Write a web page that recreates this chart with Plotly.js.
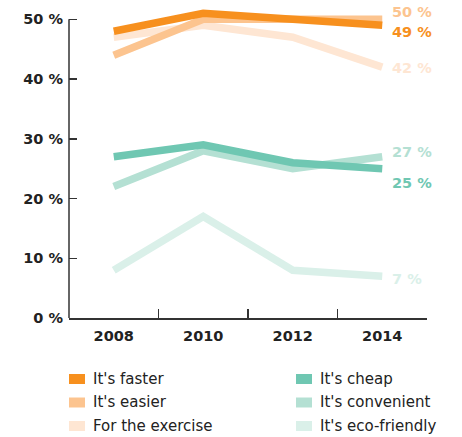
<!DOCTYPE html>
<html>
<head>
<meta charset="utf-8">
<script src="https://cdn.plot.ly/plotly-3.0.1.min.js"></script>
<style>html,body{margin:0;padding:0;background:#fff;}#chart{width:462px;height:437px;}</style>
</head>
<body>
<div id="chart"></div>
<script>
var years = ["2008", "2010", "2012", "2014"];
var seriesNames = ["It's faster", "It's easier", "For the exercise", "It's cheap", "It's convenient", "It's eco-friendly"];
var faster = [48, 51, 50, 49];
var easier = [44, 50, 50, 50];
var exercise = [47, 49, 47, 42];
var cheap = [27, 29, 26, 25];
var convenient = [22, 28, 25, 27];
var ecoFriendly = [8, 17, 8, 7];
var yTickVals = [0, 10, 20, 30, 40, 50];
var yTickText = ["0 %", "10 %", "20 %", "30 %", "40 %", "50 %"];

var seriesValues = [faster, easier, exercise, cheap, convenient, ecoFriendly];
var colors = ["#F7901E", "#FCC48F", "#FEE6D3", "#6FC7B2", "#B4E0D3", "#DAF0E9"];
var labelShift = [-7, 7.5, -1, -14.5, 5, -3];
var drawOrder = [5, 4, 3, 2, 1, 0];

var FONT = "DejaVu Sans, sans-serif";
var traces = drawOrder.map(function (i) {
  return {
    x: years, y: seriesValues[i], type: "scatter", mode: "lines",
    name: seriesNames[i], showlegend: false, hoverinfo: "skip",
    line: { color: colors[i], width: 7.5 }
  };
});

var annotations = [];
var shapes = [];
var lastIdx = years.length - 1;
seriesValues.forEach(function (vals, i) {
  var last = vals[lastIdx];
  annotations.push({
    x: lastIdx, y: last, xref: "x", yref: "y",
    text: "<b>" + last + " %</b>", showarrow: false,
    xanchor: "left", yanchor: "middle", xshift: 8, yshift: labelShift[i],
    font: { family: FONT, size: 14.5, color: colors[i] }
  });
});

// y axis line from 0 to 50
shapes.push({ type: "line", xref: "paper", yref: "y", x0: 0, x1: 0, y0: 0, y1: 50,
  line: { color: "#333333", width: 1.5 } });

// legend (manual, two columns)
var legendOrder = [[0, 1, 2], [3, 4, 5]];
var plotH = 316;
legendOrder.forEach(function (col, c) {
  col.forEach(function (idx, r) {
    var cyPx = 379 + r * 23.5;
    var yP = (318 - cyPx) / plotH;
    var x0px = c === 0 ? 69 : 296;
    var x0 = (x0px - 69) / 358;
    shapes.push({ type: "rect", xref: "paper", yref: "paper",
      x0: x0, x1: x0 + 16 / 358, y0: yP - 5 / plotH, y1: yP + 5 / plotH,
      fillcolor: colors[idx], line: { width: 0 } });
    annotations.push({ xref: "paper", yref: "paper", x: x0 + 22 / 358, y: yP,
      xanchor: "left", yanchor: "middle", showarrow: false, text: seriesNames[idx],
      font: { family: FONT, size: 15, color: "#222222" } });
  });
});

var layout = {
  width: 462, height: 437,
  margin: { l: 69, r: 35, t: 2, b: 119 },
  paper_bgcolor: "#ffffff", plot_bgcolor: "#ffffff",
  showlegend: false,
  xaxis: {
    type: "category", range: [-0.5, 3.5], showgrid: false, zeroline: false,
    showline: true, linecolor: "#333333", linewidth: 1.5,
    ticks: "inside", tickson: "boundaries", ticklen: 9, tickcolor: "#333333", tickwidth: 1.5,
    tickfont: { family: FONT, size: 14.5, color: "#222222", weight: "bold" },
    ticklabelstandoff: 4,
    fixedrange: true
  },
  yaxis: {
    range: [0, 52.9], showgrid: false, zeroline: false, showline: false,
    tickvals: yTickVals, ticktext: yTickText,
    ticks: "inside", ticklen: 8, tickcolor: "#333333", tickwidth: 1.5,
    tickfont: { family: FONT, size: 14.5, color: "#222222", weight: "bold" },
    ticklabelstandoff: 5,
    fixedrange: true
  },
  annotations: annotations,
  shapes: shapes
};

Plotly.newPlot("chart", traces, layout, { staticPlot: true, displayModeBar: false });
</script>
</body>
</html>
